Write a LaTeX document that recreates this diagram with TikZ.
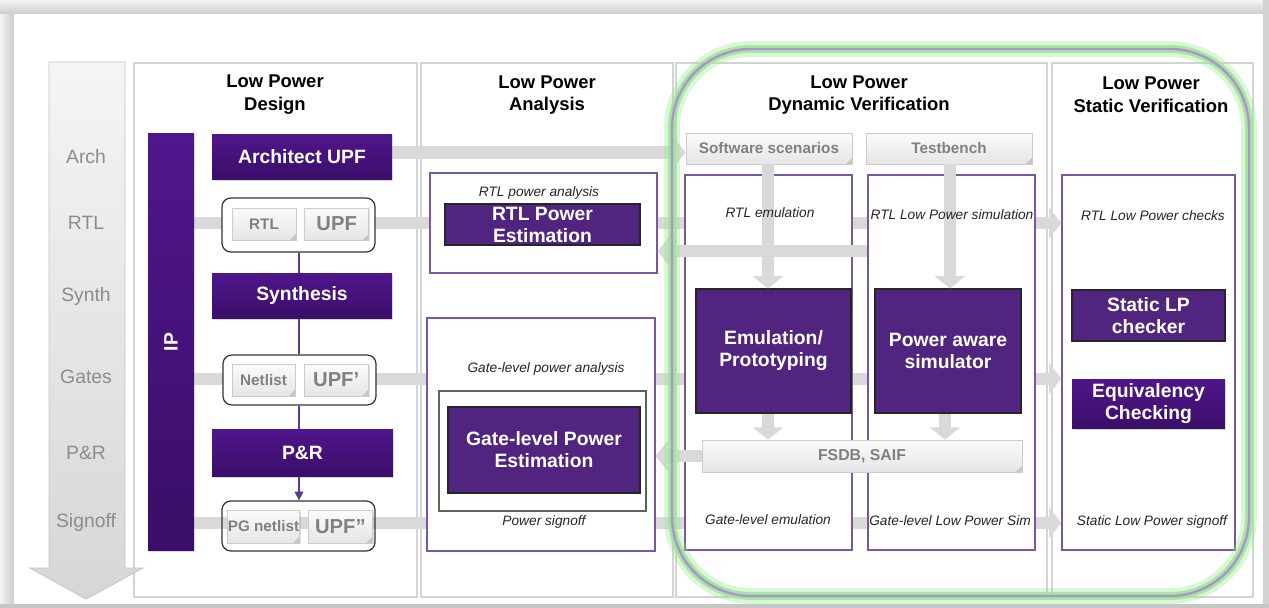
\documentclass[tikz,border=0pt]{standalone}
\usepackage{fontspec}
\setmainfont{Liberation Sans}
\usetikzlibrary{arrows.meta, positioning, calc, fit, shadows, backgrounds}
\definecolor{lpPurple}{RGB}{80, 22, 140}
\definecolor{lpPurpleDark}{RGB}{58, 14, 104}
\definecolor{lpViolet}{RGB}{81, 36, 128}
\definecolor{subFrame}{RGB}{122, 85, 168}
\definecolor{linkPurple}{RGB}{92, 58, 140}
\definecolor{glowGreen}{RGB}{150, 232, 140}
\definecolor{lilacLine}{RGB}{182, 140, 222}
\definecolor{bandGray}{RGB}{217, 217, 217}
\definecolor{panelGray}{RGB}{212, 212, 212}
\definecolor{stageGray}{RGB}{140, 140, 140}
\definecolor{docGray}{RGB}{128, 128, 128}
\definecolor{frameGreen}{RGB}{85, 105, 85}

\begin{document}
\begin{tikzpicture}[
    x=0.02cm, y=-0.02cm,
    panel/.style={draw=panelGray, line width=0.6pt, inner sep=0pt},
    head/.style={font=\bfseries\fontsize{10.5}{13}\selectfont, align=center},
    stage/.style={text=stageGray, font=\fontsize{11}{13}\selectfont},
    bx/.style={top color=lpPurple, bottom color=lpPurpleDark, text=white, inner sep=0pt, align=center,
        font=\bfseries\fontsize{11}{12.5}\selectfont, drop shadow={shadow xshift=0.7pt, shadow yshift=-0.7pt, opacity=0.3}},
    flat/.style={fill=lpViolet, draw=black!85, line width=0.6pt, text=white, inner sep=0pt, align=center,
        font=\bfseries\fontsize{11}{12.5}\selectfont, drop shadow={shadow xshift=0.7pt, shadow yshift=-0.7pt, opacity=0.3}},
    doc/.style={draw=gray!40, top color=gray!3, bottom color=gray!20, text=docGray, inner sep=0pt,
        font=\bfseries\fontsize{8.7}{10}\selectfont, drop shadow={shadow xshift=0.8pt, shadow yshift=-0.8pt, opacity=0.25},
        path picture={\fill[gray!45] ([xshift=-3.5pt]path picture bounding box.south east) -- ([yshift=3.5pt]path picture bounding box.south east) -- (path picture bounding box.south east) -- cycle;}},
    bigdoc/.style={doc, font=\bfseries\fontsize{11.5}{13}\selectfont},
    grp/.style={draw=black!80, line width=0.7pt, rounded corners=5pt, fill=white, inner sep=0pt},
    sub/.style={draw=subFrame, line width=0.6pt, fill=white, inner sep=0pt},
    note/.style={font=\itshape\fontsize{7.8}{9}\selectfont, text=black!85},
    band/.style={draw=bandGray, line width=7pt},
    bandtip/.style={band, -{Triangle[width=17pt, length=7pt]}},
    link/.style={draw=linkPurple, line width=0.6pt}
]
    \useasboundingbox (0,0) rectangle (1269,608);

    % Frame and column panels (background layer)
    \begin{scope}[on background layer]
        \shade[left color=gray!8, right color=gray!40] (0,0) rectangle (14,608);
        \shade[top color=gray!8, bottom color=gray!40] (0,0) rectangle (1269,14);
        \fill[gray!35] (1263,0) rectangle (1269,608);
        \fill[gray!45] (0,604) rectangle (1269,608);
        \fill[white] (14,14) rectangle (1263,604);
        \node[panel, fit={(134,63) (417,597)}] (pdesign) {};
        \node[panel, fit={(421,63) (673,597)}] (panalysis) {};
        \node[panel, fit={(676,63) (1047,597)}] (pdynamic) {};
        \node[panel, fit={(1052,63) (1253,597)}] (pstatic) {};
    \end{scope}

    % Headers
    \node[head] (hdesign) at (275,95) {Low Power\\Design};
    \node[head] (hanalysis) at (547,95) {Low Power\\Analysis};
    \node[head] (hdynamic) at (859,95) {Low Power\\Dynamic Verification};
    \node[head] (hstatic) at (1151,95) {Low Power\\Static Verification};

    % Flow arrow with stages
    \shade[top color=gray!8, bottom color=gray!32, draw=gray!45, line width=0.5pt]
        (49,62) -- (125,62) -- (125,568) -- (143,568) -- (86,599) -- (30,568) -- (49,568) -- cycle;
    \foreach \name/\txt/\y in {sArch/Arch/157, sRtl/RTL/223, sSynth/Synth/297, sGates/Gates/377, sPnr/P\&R/453, sSign/Signoff/523}
        \node[stage] (\name) at (86,\y) {\txt};

    % Design column
    \node[bx, minimum width=0.92cm, minimum height=8.36cm] (ip) at (171,342) {\rotatebox{90}{IP}};
    \node[bx, minimum width=3.6cm, minimum height=0.92cm] (arch) at (302,157) {Architect UPF};
    \node[grp, fit={(222,198) (375,252)}] (rtlgrp) {};
    \node[doc, minimum width=1.28cm, minimum height=0.64cm] (rtldoc) at (264,224) {RTL};
    \node[bigdoc, minimum width=1.28cm, minimum height=0.64cm, right=0.16cm of rtldoc] (upfdoc) {UPF};
    \node[bx, minimum width=3.6cm, minimum height=0.92cm] (syn) at (302,296) {Synthesis};
    \node[grp, fit={(223,355) (376,405)}] (netgrp) {};
    \node[doc, minimum width=1.26cm, minimum height=0.64cm] (netdoc) at (263.5,380) {Netlist};
    \node[bigdoc, minimum width=1.28cm, minimum height=0.64cm, right=0.17cm of netdoc] (upfadoc) {UPF’};
    \node[bx, minimum width=3.62cm, minimum height=0.96cm] (pnr) at (302.5,453) {P\&R};
    \node[grp, fill=none, fit={(222,501) (375,551)}] (pggrp) {};
    \node[doc, minimum width=1.26cm, minimum height=0.66cm] (pgdoc) at (263.5,526.5) {PG netlist};
    \node[bigdoc, minimum width=1.28cm, minimum height=0.66cm, right=0.17cm of pgdoc] (upfbdoc) {UPF”};

    % Analysis column
    \node[sub, fit={(430,173) (657,273)}] (rtlpa) {};
    \node[note] (rtlpanote) at (539,193) {RTL power analysis};
    \node[flat, minimum width=3.9cm, minimum height=0.82cm] (rtlpe) at (542.5,224.5) {RTL Power\\Estimation};
    \node[sub, fit={(427,318) (655,551)}] (glpa) {};
    \node[note] (glpanote) at (546,369) {Gate-level power analysis};
    \node[draw=frameGreen, line width=0.6pt, fill=white, inner sep=0pt,
        drop shadow={shadow xshift=0.7pt, shadow yshift=-0.7pt, opacity=0.3}, fit={(439,391) (646,511)}] (glframe) {};
    \node[flat, minimum width=3.84cm, minimum height=1.72cm] (glpe) at (544,450) {Gate-level Power\\Estimation};
    \node[note] (signnote) at (544,522) {Power signoff};

    % Dynamic verification column
    \node[doc, minimum width=3.32cm, minimum height=0.62cm] (soft) at (769,148.5) {Software scenarios};
    \node[doc, minimum width=3.32cm, minimum height=0.62cm] (tb) at (949,148.5) {Testbench};
    \node[sub, fit={(685,175) (852,550)}] (emup) {};
    \node[sub, fit={(868,175) (1035,550)}] (simp) {};

    % Static verification column
    \node[sub, fit={(1062,175) (1235,550)}] (stp) {};

    % Gray flow bands (behind the boxes)
    \begin{scope}[on background layer]
        \draw[bandtip] ([yshift=2.5pt]arch.east) -- ([yshift=2.5pt]arch.east -| soft.west);
        \draw[bandtip] (ip.east |- sRtl) -- (stp.west |- sRtl);
        \draw[bandtip] ([yshift=-1pt]ip.east |- sGates) -- ([yshift=-1pt]stp.west |- sGates);
        \draw[bandtip] (ip.east |- sSign) -- (stp.west |- sSign);
    \end{scope}
    \draw[band, {Triangle[width=17pt, length=7pt]}-] ([yshift=-16pt]rtlpa.east) -- ([yshift=-16pt]rtlpa.east -| simp.west);

    \node[flat, minimum width=3.1cm, minimum height=2.48cm] (emu) at (773.5,351) {Emulation/\\Prototyping};
    \node[flat, minimum width=2.92cm, minimum height=2.48cm] (sim) at (948,351) {Power aware\\simulator};
    \node[doc, font=\bfseries\fontsize{9}{10}\selectfont, minimum width=6.4cm, minimum height=0.64cm] (fsdb) at (862,456) {FSDB, SAIF};

    \draw[bandtip, line width=6.6pt] (soft.south -| 768,0) -- (emu.north -| 768,0);
    \draw[bandtip, line width=6.6pt] (tb.south -| 950,0) -- (sim.north -| 950,0);
    \draw[bandtip, line width=6.6pt] (emu.south -| 768,0) -- (fsdb.north -| 768,0);
    \draw[bandtip, line width=6.6pt] (sim.south -| 945,0) -- (fsdb.north -| 945,0);
    \begin{scope}[on background layer]
        \draw[bandtip] (fsdb.west) -- (fsdb.west -| glpa.east);
    \end{scope}
    \draw[band] (fsdb.west) -- ([xshift=-1pt]fsdb.west -| emup.west);

    \node[note] (rtlemu) at (770,213) {RTL emulation};
    \node[note] (rtlsim) at (952,215) {RTL Low Power simulation};
    \node[note] (glemu) at (768,520) {Gate-level emulation};
    \node[note] (glsim) at (950,521) {Gate-level Low Power Sim};

    \node[note] (rtlchk) at (1153,216) {RTL Low Power checks};
    \node[flat, minimum width=3.06cm, minimum height=1.02cm] (slp) at (1148.5,315.5) {Static LP\\checker};
    \node[bx, minimum width=3.06cm, minimum height=1.0cm] (eqv) at (1148.5,404) {Equivalency\\Checking};
    \node[note] (stsign) at (1152,522) {Static Low Power signoff};

    % Design flow links
    \draw[link] (rtlgrp.south -| 299,0) -- (syn.north -| 299,0);
    \draw[link] (syn.south -| 299,0) -- (netgrp.north -| 299,0);
    \draw[link] (netgrp.south -| 299,0) -- (pnr.north -| 299,0);
    \draw[link, -{Triangle[width=5pt, length=5pt]}] (pnr.south -| 299,0) -- (pggrp.north -| 299,0);

    % Verification outline with glow
    \draw[glowGreen, line width=9pt, opacity=0.35, rounded corners=45pt] (672,49) rectangle (1249,596);
    \draw[glowGreen, line width=4.5pt, opacity=0.8, rounded corners=45pt] (672,49) rectangle (1249,596);
    \draw[lilacLine, line width=1.4pt, rounded corners=45pt] (672,49) rectangle (1249,596);
\end{tikzpicture}
\end{document}
